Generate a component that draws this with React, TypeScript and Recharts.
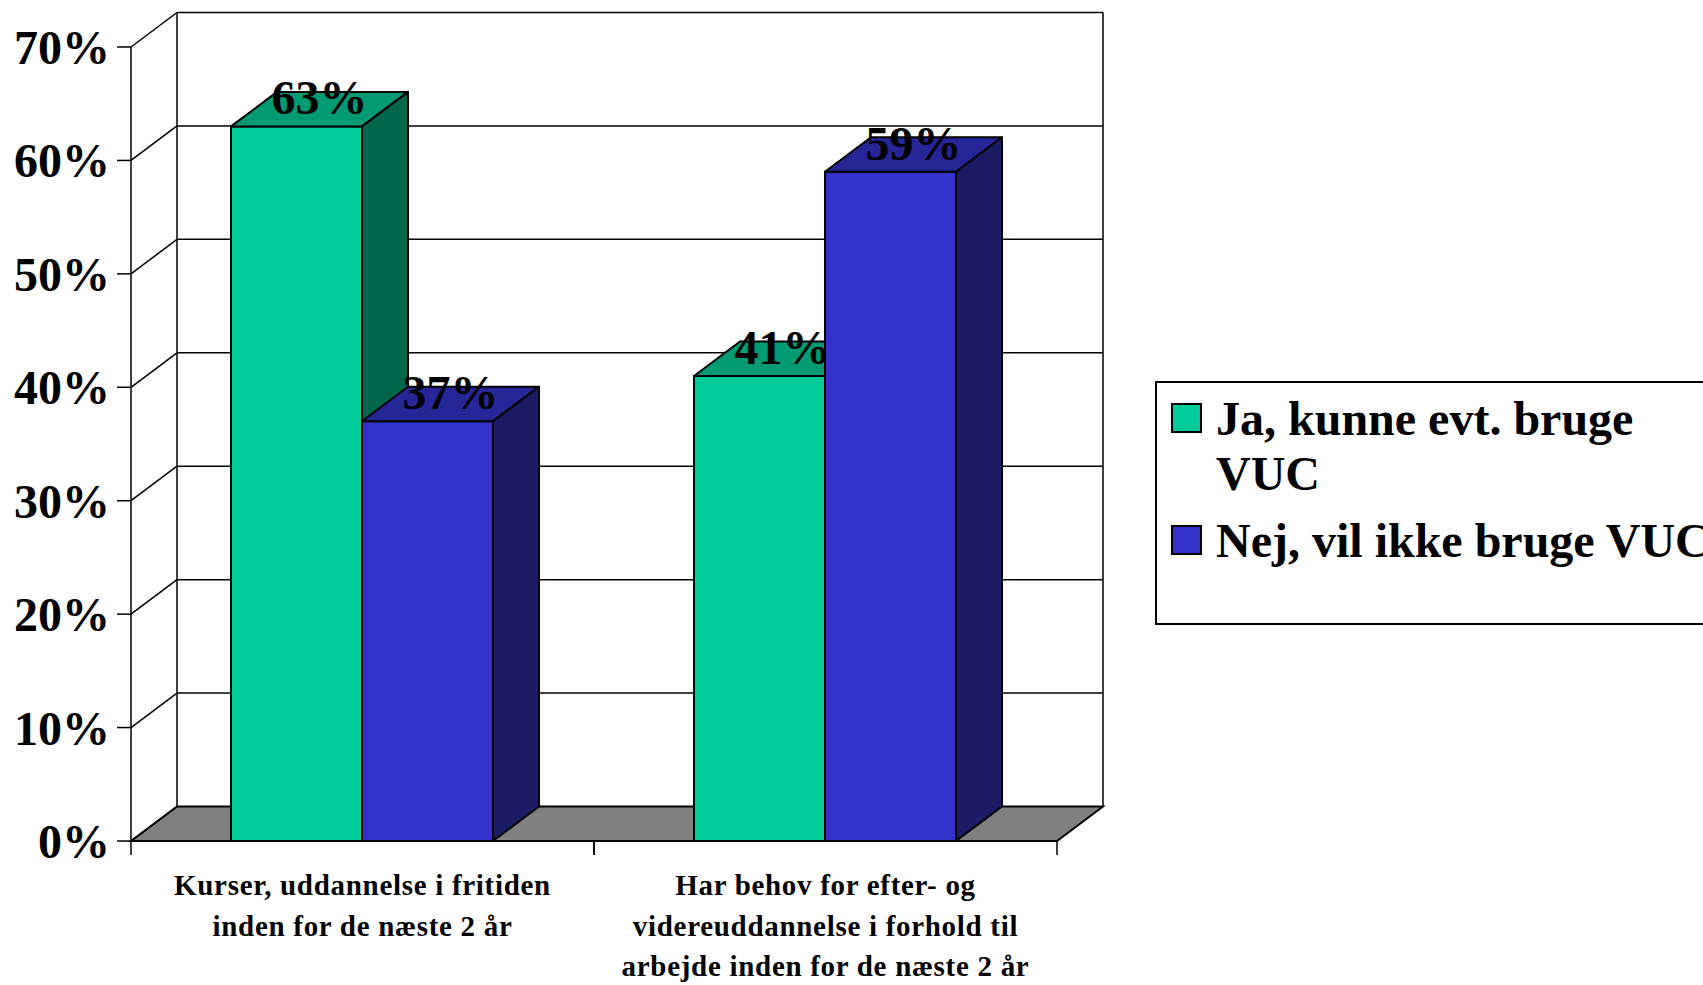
import React from "react";
import { BarChart, Bar, XAxis, YAxis, CartesianGrid, Legend } from "recharts";

const categories = [
  "Kurser, uddannelse i fritiden\ninden for de næste 2 år",
  "Har behov for efter- og\nvidereuddannelse i forhold til\narbejde inden for de næste 2 år",
];
const jaValues = [0.63, 0.41];
const nejValues = [0.37, 0.59];
const yTicks = [0, 0.1, 0.2, 0.3, 0.4, 0.5, 0.6, 0.7];
const seriesNames = ["Ja, kunne evt. bruge VUC", "Nej, vil ikke bruge VUC"];

const data = categories.map((name, i) => ({ name, ja: jaValues[i], nej: nejValues[i] }));

const W = 1703;
const H = 985;
const MARGIN = { top: 47, right: 646, bottom: 0, left: 0 };
const Y_AXIS_W = 131;
const X_AXIS_H = 144;
const PLOT_W = W - MARGIN.right - Y_AXIS_W;
const PLOT_BOTTOM = H - X_AXIS_H;
// 3d depth offset
const DX = 46;
const DY = -34.5;
const FONT = "'Liberation Serif', 'Times New Roman', serif";

const green = { front: "#00CC99", top: "#009B72", side: "#00664C" };
const blue = { front: "#3333CC", top: "#262699", side: "#1C1C66" };

const pct = (v: number) => `${Math.round(v * 100)}%`;

function makeShape(key: string, c: { front: string; top: string; side: string }) {
  return (props: any) => {
    const { x, y, width: w, height: h, payload } = props;
    const v = payload[key];
    return (
      <g>
        <rect x={x} y={y} width={w} height={h} fill={c.front} stroke="#000" strokeWidth={2} />
        <polygon
          points={`${x},${y} ${x + DX},${y + DY} ${x + w + DX},${y + DY} ${x + w},${y}`}
          fill={c.top}
          stroke="#000"
          strokeWidth={2}
          strokeLinejoin="round"
        />
        <polygon
          points={`${x + w},${y} ${x + w + DX},${y + DY} ${x + w + DX},${y + h + DY} ${x + w},${y + h}`}
          fill={c.side}
          stroke="#000"
          strokeWidth={2}
          strokeLinejoin="round"
        />
        <text
          x={x + w / 2 + DX / 2}
          y={y + DY / 2 + 5}
          textAnchor="middle"
          fontFamily={FONT}
          fontWeight="bold"
          fontSize={48}
          fill="#000"
        >
          {pct(v)}
        </text>
      </g>
    );
  };
}

function gridH(props: any) {
  const { x1, y1, x2, index } = props;
  const isFloor = Math.abs(y1 - PLOT_BOTTOM) < 1;
  return (
    <g key={`h-${index}`}>
      {isFloor ? (
        <polygon
          points={`${x1},${y1} ${x1 + DX},${y1 + DY} ${x2 + DX},${y1 + DY} ${x2},${y1}`}
          fill="#808080"
          stroke="#000"
          strokeWidth={2}
        />
      ) : (
        <line x1={x1 + DX} y1={y1 + DY} x2={x2 + DX} y2={y1 + DY} stroke="#000" strokeWidth={1.5} />
      )}
      <line x1={x1} y1={y1} x2={x1 + DX} y2={y1 + DY} stroke="#000" strokeWidth={1.5} />
    </g>
  );
}

function gridV(props: any) {
  const { x1, y1, y2, index } = props;
  return (
    <line
      key={`v-${index}`}
      x1={x1 + DX}
      y1={y1 + DY}
      x2={x1 + DX}
      y2={y2 + DY}
      stroke="#000"
      strokeWidth={1.5}
    />
  );
}

function XTick(props: any) {
  const { x, y, payload } = props;
  const half = payload.offset > 0 ? payload.offset : PLOT_W / categories.length / 2;
  const lines = String(payload.value).split("\n");
  return (
    <g>
      <line x1={x - half} y1={y - 14} x2={x - half} y2={y} stroke="#000" strokeWidth={1.5} />
      <line x1={x + half} y1={y - 14} x2={x + half} y2={y} stroke="#000" strokeWidth={1.5} />
      {lines.map((t, i) => (
        <text
          key={i}
          x={x}
          y={y + 40 + i * 40.5}
          textAnchor="middle"
          fontFamily={FONT}
          fontWeight="bold"
          fontSize={29}
          letterSpacing={0.7}
          fill="#000"
        >
          {t}
        </text>
      ))}
    </g>
  );
}

function LegendBox(props: any) {
  const { payload = [] } = props;
  return (
    <div
      style={{
        width: 560,
        height: 244,
        boxSizing: "border-box",
        border: "2px solid #000",
        background: "#fff",
        fontFamily: FONT,
        fontWeight: "bold",
        fontSize: 48,
        lineHeight: "55px",
        color: "#000",
        paddingTop: 8,
      }}
    >
      {payload.map((entry: any, i: number) => (
        <div key={i} style={{ position: "relative", marginTop: i === 0 ? 0 : 12 }}>
          <div
            style={{
              position: "absolute",
              left: 14,
              top: 12,
              width: 31,
              height: 30,
              boxSizing: "border-box",
              border: "2px solid #000",
              background: entry.color,
            }}
          />
          <div style={{ marginLeft: 59, width: 515, whiteSpace: i === 0 ? "normal" : "nowrap" }}>
            {entry.value}
          </div>
        </div>
      ))}
    </div>
  );
}

export default function App() {
  return (
    <div
      style={{
        position: "absolute",
        left: 0,
        top: 0,
        width: W,
        height: H,
        overflow: "hidden",
        background: "#fff",
      }}
    >
      <BarChart width={W} height={H} data={data} margin={MARGIN} barCategoryGap="21.6%" barGap={0}>
        <CartesianGrid
          horizontal={gridH}
          vertical={gridV}
          verticalCoordinatesGenerator={({ offset }: any) => [offset.left, offset.left + offset.width]}
        />
        <XAxis
          dataKey="name"
          interval={0}
          height={X_AXIS_H}
          tickLine={false}
          tickSize={14}
          tickMargin={0}
          axisLine={{ stroke: "#000", strokeWidth: 1.5 }}
          tick={<XTick />}
        />
        <YAxis
          type="number"
          domain={[0, 0.7]}
          ticks={yTicks}
          width={Y_AXIS_W}
          tickSize={14}
          tickMargin={7}
          tickFormatter={pct}
          axisLine={{ stroke: "#000", strokeWidth: 1.5 }}
          tickLine={{ stroke: "#000", strokeWidth: 1.5 }}
          tick={{ fill: "#000", fontSize: 48, fontWeight: "bold", fontFamily: FONT }}
        />
        <Bar
          dataKey="ja"
          name={seriesNames[0]}
          fill={green.front}
          shape={makeShape("ja", green)}
          isAnimationActive={false}
        />
        <Bar
          dataKey="nej"
          name={seriesNames[1]}
          fill={blue.front}
          shape={makeShape("nej", blue)}
          isAnimationActive={false}
        />
        <Legend
          layout="vertical"
          align="center"
          verticalAlign="middle"
          wrapperStyle={{ left: 1155, top: 381, width: 560 }}
          content={<LegendBox />}
        />
      </BarChart>
    </div>
  );
}
